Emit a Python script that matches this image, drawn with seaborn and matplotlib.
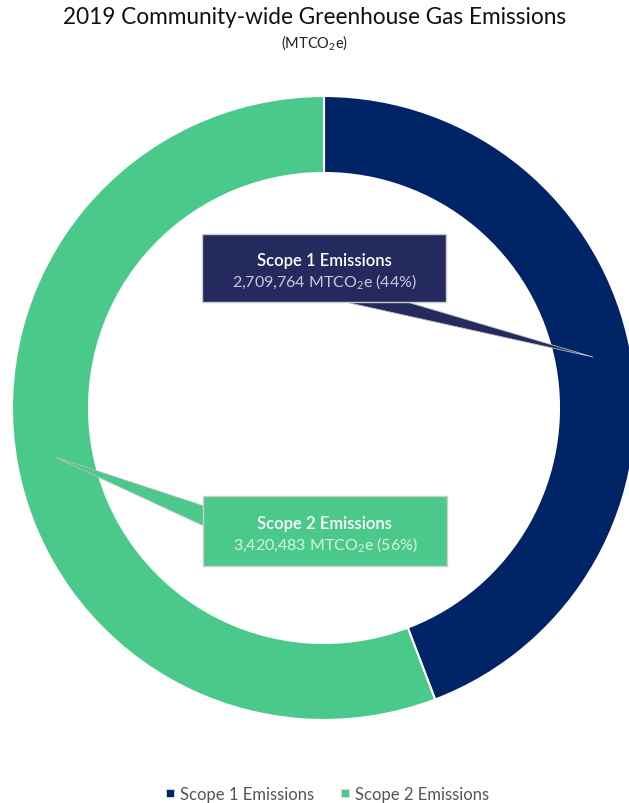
import matplotlib
matplotlib.use("Agg")
import matplotlib.pyplot as plt
import seaborn as sns
from matplotlib.patches import Polygon, Rectangle
from matplotlib.lines import Line2D

categories = ["Scope 1 Emissions", "Scope 2 Emissions"]
values = [2709764, 3420483]
percent_labels = ["44%", "56%"]
colors = ["#002466", "#4bc98a"]
box_colors = ["#252a5e", "#4bc98a"]

sns.set_theme(style="white")
plt.rcParams["font.family"] = ["Lato", "DejaVu Sans"]
plt.rcParams["mathtext.fontset"] = "custom"
plt.rcParams["mathtext.rm"] = "Lato"
plt.rcParams["mathtext.it"] = "Lato"
plt.rcParams["mathtext.bf"] = "Lato"

W, H = 629, 804
fig = plt.figure(figsize=(W / 100, H / 100), dpi=100)
ax = fig.add_axes([0, 0, 1, 1])

def Y(yp):
    return H - yp

cx, cy, R = 324, Y(409), 312
ax.pie(values, colors=colors, startangle=90, counterclock=False,
       center=(cx, cy), radius=R,
       wedgeprops=dict(width=77, edgecolor="white", linewidth=1.5))
ax.set_xlim(0, W)
ax.set_ylim(0, H)
ax.set_aspect("equal")
ax.axis("off")

# Callouts
boxes = [
    dict(x0=202, y0=235, x1=446, y1=303,
         tri=[(345, 303), (407, 303), (593, 358)]),
    dict(x0=203, y0=497, x1=447, y1=567,
         tri=[(204, 507), (204, 527), (55, 458)]),
]
sub_colors = ["#c9cad8", "#d6f3e3"]
for i, b in enumerate(boxes):
    tri = [(x, Y(y)) for x, y in b["tri"]]
    ax.add_patch(Polygon(tri, closed=True, facecolor=box_colors[i],
                         edgecolor="#bbbbbb", linewidth=0.6, zorder=3))
    ax.add_patch(Rectangle((b["x0"], Y(b["y1"])), b["x1"] - b["x0"], b["y1"] - b["y0"],
                           facecolor=box_colors[i], edgecolor="#cccccc",
                           linewidth=1.0, zorder=4))
    mx = (b["x0"] + b["x1"]) / 2
    my = (b["y0"] + b["y1"]) / 2
    ax.text(mx, Y(my - 8), categories[i], ha="center", va="center",
            color="white", fontsize=12, fontweight="semibold", zorder=5)
    ax.text(mx, Y(my + 13), f"{values[i]:,} MTCO$_2$e ({percent_labels[i]})",
            ha="center", va="center", color=sub_colors[i],
            fontsize=11.5, fontweight="normal", zorder=5)

# Title
fig.text(0.5, 1 - 18 / H, "2019 Community-wide Greenhouse Gas Emissions",
         ha="center", va="center", fontsize=16.3, color="#111111")
fig.text(0.5, 1 - 43 / H, "(MTCO$_2$e)", ha="center", va="center",
         fontsize=10.5, color="#222222")

# Legend
handles = [Line2D([0], [0], marker="s", linestyle="none", markersize=5.5,
                  markerfacecolor=c, markeredgecolor="#dddddd", markeredgewidth=0.6)
           for c in colors]
fig.legend(handles, categories, loc="center", bbox_to_anchor=(0.514, 1 - 795 / H),
           ncol=2, frameon=False, fontsize=12, handletextpad=-0.2,
           handlelength=1.5, columnspacing=1.15, labelcolor="#555555")

fig.savefig("out.png", dpi=100)
